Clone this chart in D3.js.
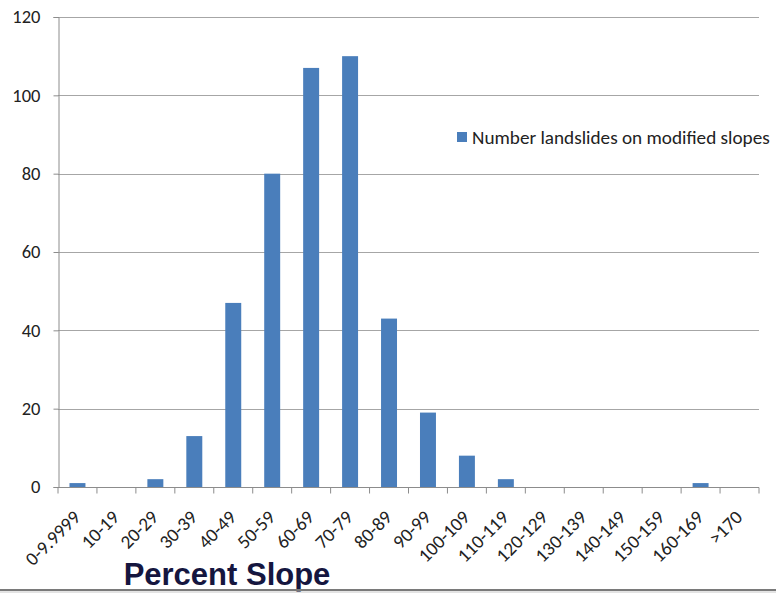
<!DOCTYPE html>
<html>
<head>
<meta charset="utf-8">
<script src="https://cdn.jsdelivr.net/npm/d3@7/dist/d3.min.js"></script>
<style>
  html, body { margin: 0; padding: 0; background: #fff; }
  svg { display: block; }
</style>
</head>
<body>
<svg id="chart" width="776" height="595"></svg>
<script>
// Slope classes (percent) and landslide counts on modified slopes
const categories = ["0-9.9999", "10-19", "20-29", "30-39", "40-49", "50-59", "60-69", "70-79",
  "80-89", "90-99", "100-109", "110-119", "120-129", "130-139", "140-149", "150-159", "160-169", ">170"];
const landslides = [1, 0, 2, 13, 47, 80, 107, 110, 43, 19, 8, 2, 0, 0, 0, 0, 1, 0];
const yTicks = [0, 20, 40, 60, 80, 100, 120];
const seriesName = "Number landslides on modified slopes";
const xTitle = "Percent Slope";

(function () {
const svg = d3.select("#chart");
const plotLeft = 58, plotRight = 759, plotTop = 17, plotBottom = 487;

const x = d3.scaleBand().domain(categories).range([plotLeft, plotRight]).paddingInner(0.59).paddingOuter(0.295);
const band = d3.scaleBand().domain(categories).range([plotLeft, plotRight]);
const y = d3.scaleLinear().domain([0, 120]).range([plotBottom, plotTop]);

const labelFont = "Carlito, Calibri, Lato, 'Open Sans', sans-serif";

// horizontal gridlines
svg.append("g").selectAll("line").data(yTicks.filter(d => d > 0)).join("line")
  .attr("x1", plotLeft).attr("x2", plotRight)
  .attr("y1", d => Math.round(y(d)) + 0.5).attr("y2", d => Math.round(y(d)) + 0.5)
  .attr("stroke", "#a6a6a6").attr("stroke-width", 1.2);

// y axis
const yAxis = svg.append("g").attr("transform", `translate(${plotLeft + 0.5},0)`)
  .call(d3.axisLeft(y).tickValues(yTicks).tickSize(5).tickPadding(13));
yAxis.select(".domain").attr("stroke", "#8c8c8c");
yAxis.selectAll(".tick line").attr("stroke", "#8c8c8c");
yAxis.selectAll(".tick text").attr("font-family", labelFont).attr("font-size", 18.5).attr("fill", "#222");

// bars
svg.append("g").selectAll("rect").data(landslides).join("rect")
  .attr("x", (d, i) => x(categories[i]))
  .attr("width", x.bandwidth())
  .attr("y", d => y(d))
  .attr("height", d => y(0) - y(d))
  .attr("fill", "#4a7ebb");

// x axis with ticks at band boundaries
const xg = svg.append("g").attr("transform", `translate(0,${plotBottom + 0.5})`);
xg.append("line").attr("x1", plotLeft).attr("x2", plotRight).attr("stroke", "#8c8c8c").attr("stroke-width", 1.2);
const bounds = categories.map(c => band(c)).concat([plotRight]);
xg.selectAll("line.tk").data(bounds).join("line").attr("class", "tk")
  .attr("x1", d => d).attr("x2", d => d).attr("y1", 0).attr("y2", 6)
  .attr("stroke", "#8c8c8c");

// rotated category labels
xg.selectAll("text").data(categories).join("text")
  .attr("transform", c => `translate(${band(c) + band.bandwidth() / 2 + 4},${31}) rotate(-45)`)
  .attr("text-anchor", "end")
  .attr("font-family", labelFont).attr("font-size", 19).attr("fill", "#222")
  .text(c => c);

// legend
const lg = svg.append("g").attr("transform", "translate(457,132)");
lg.append("rect").attr("width", 10).attr("height", 10).attr("fill", "#4a7ebb");
lg.append("text").attr("x", 15).attr("y", 11.5)
  .attr("font-family", labelFont).attr("font-size", 19.2).attr("fill", "#222")
  .text(seriesName);

// axis title
svg.append("text").attr("x", 227).attr("y", 585).attr("text-anchor", "middle")
  .attr("font-family", "'Liberation Sans', Arial, sans-serif").attr("font-weight", "bold")
  .attr("font-size", 31).attr("fill", "#15163f")
  .text(xTitle);

// bottom rule
svg.append("line").attr("x1", 0).attr("x2", 776).attr("y1", 590).attr("y2", 590)
  .attr("stroke", "#7a7a7a").attr("stroke-width", 2);
svg.append("line").attr("x1", 0).attr("x2", 776).attr("y1", 592).attr("y2", 592)
  .attr("stroke", "#c8c8c8").attr("stroke-width", 1);
})();
</script>
</body>
</html>
